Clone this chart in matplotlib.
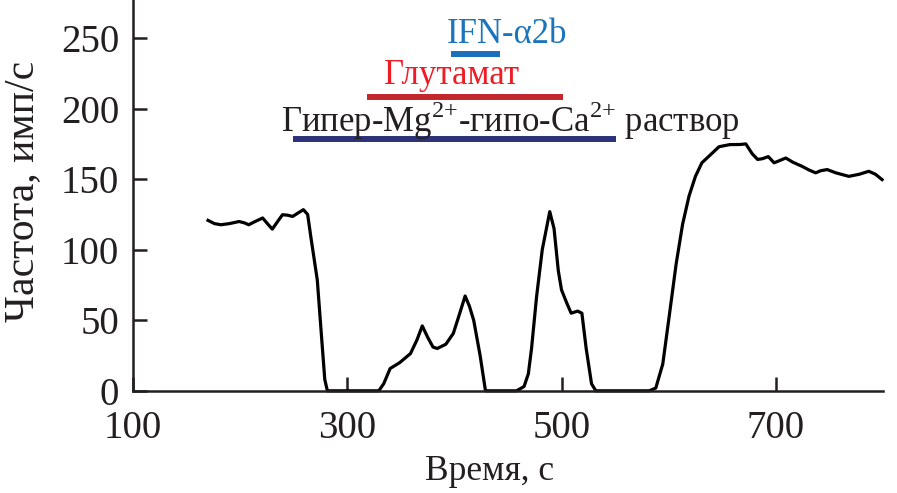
import matplotlib
matplotlib.use("Agg")
import matplotlib.pyplot as plt

# trace (time, s ; rate, imp/s)
time_s = [170, 176, 182, 190, 199, 204, 208, 214, 221, 226, 230, 235, 239.5, 244, 249, 254, 259,
          263, 266, 272, 276.7, 279, 281.4,
          329.4, 334, 340, 349, 359, 365, 370, 375, 380, 384, 392, 399, 405, 410, 414, 418, 424, 429,
          442, 458, 465, 469, 472, 476.7, 482, 489, 493, 497, 500, 505, 509, 515, 519, 523, 528, 532,
          582, 588, 594.5, 600, 607, 613, 619, 625, 631, 640, 647, 657, 667, 672, 678, 683, 687.5,
          693, 698.4, 703, 709.3, 716, 724.8, 731, 737.2, 742, 748, 756, 768.2, 778, 786.8, 793, 799.2]
rate = [120.8, 118.5, 117.7, 118.5, 120, 119, 117.7, 120, 122.5, 118, 114.6, 120, 124.8, 124.5, 123.6, 126, 128.4,
        125, 109, 78.6, 31, 8, 0,
        0, 5, 15.8, 20, 26.4, 36, 46, 38, 31, 30, 33, 40.7, 55, 67.2, 60, 50, 25, 0,
        0, 0, 3, 12, 30, 66.7, 100, 127, 115, 85, 71.5, 62, 55, 56.5, 55, 30, 5, 0,
        0, 2, 19, 50, 90, 118, 138, 152, 161.6, 168, 173, 174.5, 174.6, 175, 168, 164, 164.5,
        166, 161.6, 163, 165, 162, 159, 156.5, 154.5, 156, 156.8, 154.5, 152, 153.5, 155.6, 153.5, 149.7]

# application bars: (start, end, level)
ifn_bar = (397, 443, 238.5)
glu_bar = (318, 501.5, 208.3)
mg_bar = (249, 550.5, 178.8)

plt.rcParams['font.family'] = ['Liberation Serif', 'DejaVu Serif']
plt.rcParams['mathtext.fontset'] = 'custom'
plt.rcParams['mathtext.rm'] = 'Liberation Serif'

fig = plt.figure(figsize=(8.97, 4.93), dpi=100)
ax = fig.add_axes([0.1483, 0.2073, 0.836, 0.7927])

ax.plot(time_s, rate, color='black', linewidth=2.3, solid_joinstyle='round', clip_on=False)

ax.plot(ifn_bar[:2], [ifn_bar[2]] * 2, color='#1b6fba', linewidth=4.3, solid_capstyle='butt')
ax.plot(glu_bar[:2], [glu_bar[2]] * 2, color='#c4262e', linewidth=4.3, solid_capstyle='butt')
ax.plot(mg_bar[:2], [mg_bar[2]] * 2, color='#2b3278', linewidth=4.3, solid_capstyle='butt')

ax.text(393, 246.3, 'IFN-α2b', color='#1a75bc', fontsize=25, ha='left', va='baseline')
ax.text(397.6, 217.8, 'Глутамат', color='#ee1c25', fontsize=25, ha='center', va='baseline')
ax.text(238, 183.5, r'Гипер-Mg$^{2{+}}$-гипо-Ca$^{2{+}}$ раствор', color='#231f20', fontsize=25,
        ha='left', va='baseline')

ax.set_xlim(100, 800)
ax.set_ylim(0, 277)
ax.set_xticks([100, 300, 500, 700])
ax.set_yticks([0, 50, 100, 150, 200, 250])

for side in ['top', 'right']:
    ax.spines[side].set_visible(False)
for side in ['left', 'bottom']:
    ax.spines[side].set_linewidth(1.8)
    ax.spines[side].set_color('#231f20')

ax.tick_params(direction='in', length=10, width=1.8, labelsize=28, colors='#231f20')
ax.tick_params(axis='x', pad=14)
ax.tick_params(axis='y', pad=10)

ax.set_xlabel('Время, с', fontsize=25.5, color='#231f20')
ax.xaxis.set_label_coords(0.476, -0.165)
ax.set_ylabel('Частота, имп/с', fontsize=30, color='#231f20')
ax.yaxis.set_label_coords(-0.121, 0.511)

fig.savefig('out.png', dpi=100)
